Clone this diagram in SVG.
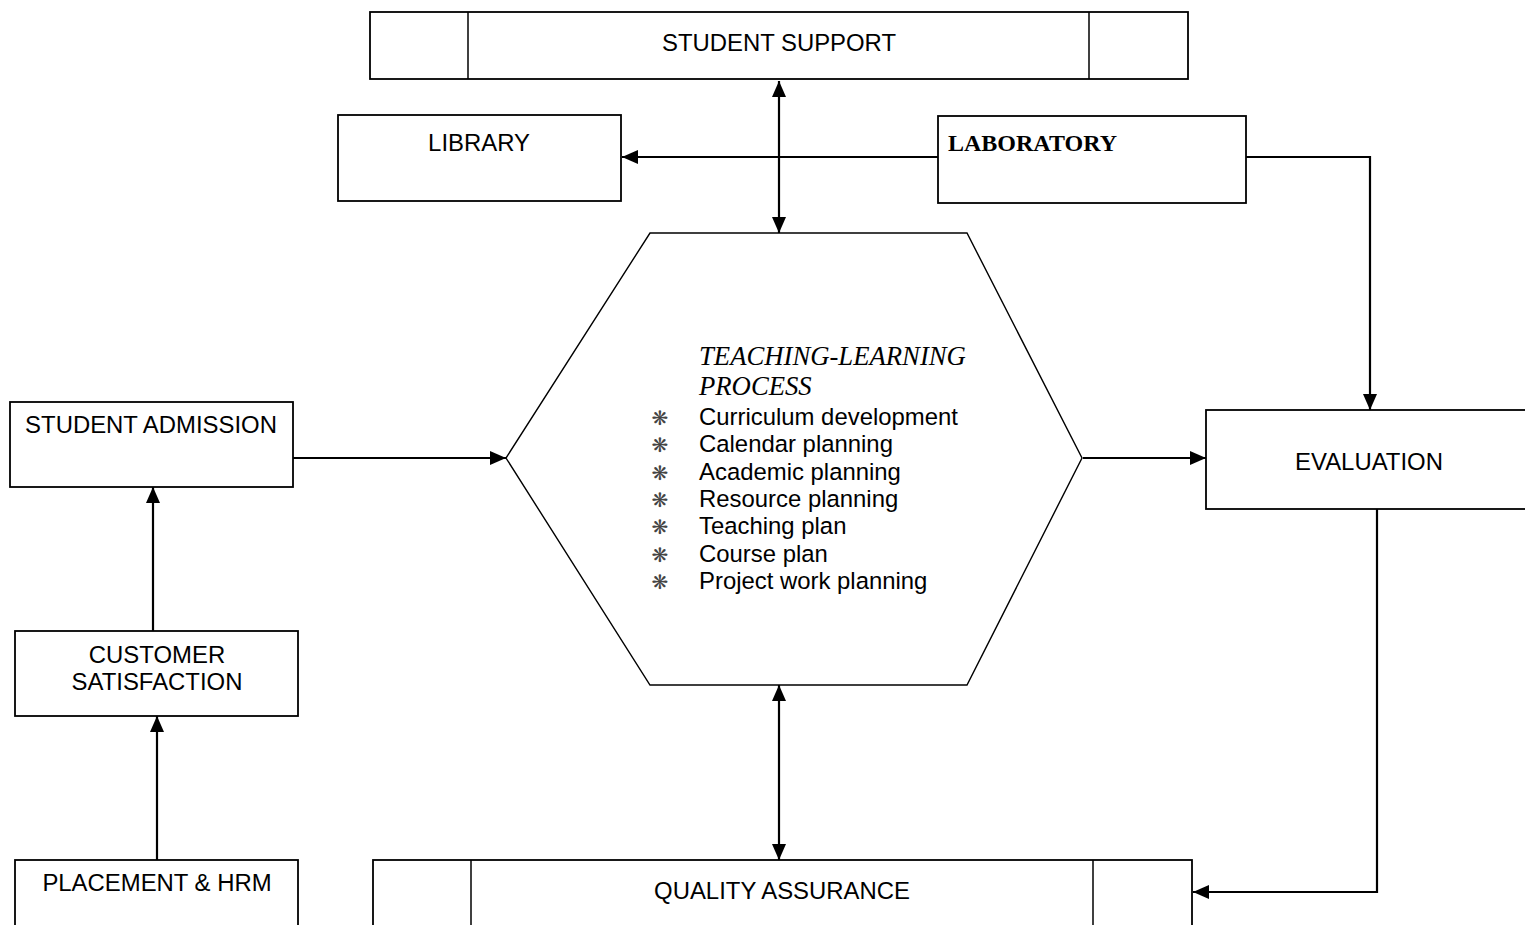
<svg xmlns="http://www.w3.org/2000/svg" width="1525" height="925" viewBox="0 0 1525 925">
<style>
.box{fill:#fff;stroke:#000;stroke-width:1.8}
.div{stroke:#000;stroke-width:1.5}
.lbl{font-family:"Liberation Sans",Arial,sans-serif;font-size:23.9px;fill:#000}
.c{text-anchor:middle}
.conn{fill:none;stroke:#000;stroke-width:2.2}
.hex{fill:#fff;stroke:#000;stroke-width:1.4}
.ital{font-family:"Liberation Serif","Times New Roman",serif;font-style:italic;font-size:26.7px;fill:#000}
.bold{font-family:"Liberation Serif","Times New Roman",serif;font-weight:bold;font-size:24px;fill:#000}
.bul{font-family:"DejaVu Sans",sans-serif;font-size:20px;fill:#444;text-anchor:middle}
</style>
<defs>
<marker id="ah" markerUnits="userSpaceOnUse" markerWidth="16" markerHeight="14" refX="16" refY="7" orient="auto-start-reverse">
<path d="M0,0 L16,7 L0,14 z" fill="#000"/>
</marker>
</defs>

<g id="connectors">
<line class="conn" x1="779" y1="81" x2="779" y2="233" marker-start="url(#ah)" marker-end="url(#ah)"/>
<line class="conn" x1="938" y1="157" x2="622" y2="157" marker-end="url(#ah)"/>
<polyline class="conn" points="1246,157 1370,157 1370,410" marker-end="url(#ah)"/>
<line class="conn" x1="293" y1="458" x2="506" y2="458" marker-end="url(#ah)"/>
<line class="conn" x1="1083" y1="458" x2="1206" y2="458" marker-end="url(#ah)"/>
<polyline class="conn" points="1377,509 1377,892 1193,892" marker-end="url(#ah)"/>
<line class="conn" x1="779" y1="685" x2="779" y2="860" marker-start="url(#ah)" marker-end="url(#ah)"/>
<line class="conn" x1="153" y1="631" x2="153" y2="487" marker-end="url(#ah)"/>
<line class="conn" x1="157" y1="860" x2="157" y2="716" marker-end="url(#ah)"/>
</g>

<g id="student-support">
<rect class="box" x="370" y="12" width="818" height="67"/>
<line class="div" x1="468" y1="12" x2="468" y2="79"/>
<line class="div" x1="1089" y1="12" x2="1089" y2="79"/>
<text class="lbl c" x="779" y="51">STUDENT SUPPORT</text>
</g>

<g id="library">
<rect class="box" x="338" y="115" width="283" height="86"/>
<text class="lbl c" x="479" y="151">LIBRARY</text>
</g>

<g id="laboratory">
<rect class="box" x="938" y="116" width="308" height="87"/>
<text class="bold" x="948" y="151">LABORATORY</text>
</g>

<g id="teaching-learning">
<polygon class="hex" points="650,233 967,233 1082,458 967,685 650,685 506,458"/>
<text class="ital" x="699" y="365">TEACHING-LEARNING</text>
<text class="ital" x="699" y="395">PROCESS</text>
<g class="bul">
<text x="660" y="425">❋</text>
<text x="660" y="452">❋</text>
<text x="660" y="480">❋</text>
<text x="660" y="507">❋</text>
<text x="660" y="534">❋</text>
<text x="660" y="562">❋</text>
<text x="660" y="589">❋</text>
</g>
<text class="lbl" x="699" y="425">Curriculum development</text>
<text class="lbl" x="699" y="452">Calendar planning</text>
<text class="lbl" x="699" y="480">Academic planning</text>
<text class="lbl" x="699" y="507">Resource planning</text>
<text class="lbl" x="699" y="534">Teaching plan</text>
<text class="lbl" x="699" y="562">Course plan</text>
<text class="lbl" x="699" y="589">Project work planning</text>
</g>

<g id="student-admission">
<rect class="box" x="10" y="402" width="283" height="85"/>
<text class="lbl c" x="151" y="433">STUDENT ADMISSION</text>
</g>

<g id="evaluation">
<rect class="box" x="1206" y="410" width="340" height="99"/>
<text class="lbl c" x="1369" y="470">EVALUATION</text>
</g>

<g id="customer-satisfaction">
<rect class="box" x="15" y="631" width="283" height="85"/>
<text class="lbl c" x="157" y="663">CUSTOMER</text>
<text class="lbl c" x="157" y="690">SATISFACTION</text>
</g>

<g id="placement-hrm">
<rect class="box" x="15" y="860" width="283" height="90"/>
<text class="lbl c" x="157" y="891">PLACEMENT &amp; HRM</text>
</g>

<g id="quality-assurance">
<rect class="box" x="373" y="860" width="819" height="90"/>
<line class="div" x1="471" y1="860" x2="471" y2="925"/>
<line class="div" x1="1093" y1="860" x2="1093" y2="925"/>
<text class="lbl c" x="782" y="899">QUALITY ASSURANCE</text>
</g>
</svg>
